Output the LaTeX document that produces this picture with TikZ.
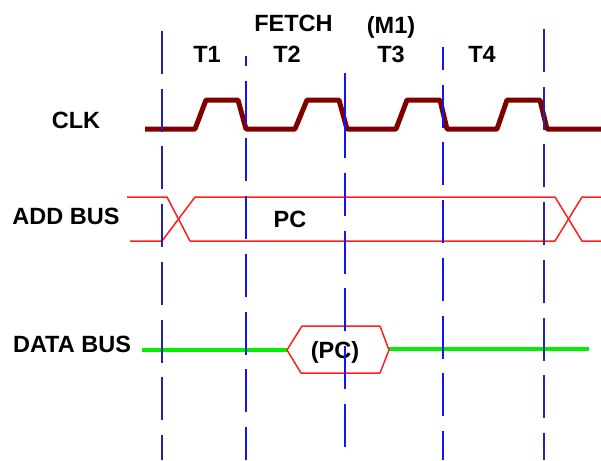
\documentclass[tikz,border=0pt]{standalone}
\usepackage{fontspec}
\setmainfont{Liberation Sans}
\definecolor{clkc}{RGB}{128,0,0}
\definecolor{busc}{RGB}{255,30,30}
\definecolor{dbusc}{RGB}{0,240,0}
\definecolor{gridc}{RGB}{20,20,250}
\definecolor{griddk}{RGB}{35,35,165}
\begin{document}
\begin{tikzpicture}[x=1pt,y=-1pt,
  lbl/.style={font=\fontsize{23.5}{27}\selectfont\bfseries, inner sep=0pt, anchor=base},
  clkline/.style={draw=clkc, line width=5pt, line join=round},
  busline/.style={draw=busc, line width=1.5pt},
  dline/.style={draw=dbusc, line width=4.5pt},
  gridline/.style={draw=gridc, line width=1.8pt, dash pattern=on 43pt off 14.7pt},
  gridsolid/.style={draw=gridc, line width=1.8pt}]
\useasboundingbox (0,0) rectangle (601,460);
% labels
\node[lbl] (fetch) at (293.5,32) {FETCH};
\node[lbl] (m1) at (391,34) {(M1)};
\node[lbl] (t1) at (207,63) {T1};
\node[lbl] (t2) at (287,63) {T2};
\node[lbl] (t3) at (391,63) {T3};
\node[lbl] (t4) at (482,63) {T4};
\node[lbl] (clk) at (76,128) {CLK};
\node[lbl] (addbus) at (66,224) {ADD BUS};
\node[lbl] (databus) at (72,352) {DATA BUS};
\node[lbl] (pc) at (290,227) {PC};
% CLK
\draw[clkline] (145,129) -- (195,129) -- (206,100) -- (238,100) -- (246,129)
  -- (295,129) -- (307,100) -- (339,100) -- (347,129)
  -- (396,129) -- (407,100) -- (440,100) -- (447,129)
  -- (497,129) -- (507,100) -- (540,100) -- (547,129) -- (601,129);
% ADD BUS
\draw[busline] (127,197) -- (167,197) -- (190,241);
\draw[busline] (130,241) -- (162,241) -- (195,197) -- (555,197) -- (582,241) -- (601,241);
\draw[busline] (190,241) -- (555,241) -- (582,197) -- (601,197);
% DATA BUS
\draw[dline] (142,350) -- (287,350);
\draw[dline] (389,349) -- (589,349);
\draw[busline, line join=round] (287,350) -- (302,326) -- (380,326) -- (389,350) -- (380,373) -- (301,373) -- cycle;
\node[lbl] (pcc) at (335,358) {(PC)};
% grid lines
\draw[gridline, draw=griddk, dash phase=0pt] (162,31) -- (162,460);
\draw[gridline, dash phase=33pt] (246,56) -- (246,460);
\draw[gridsolid] (345,73) -- (345,158);
\draw[gridline, dash phase=0pt] (345,173) -- (345,460);
\draw[gridline, dash phase=20pt] (443,47) -- (443,460);
\draw[gridline, draw=griddk, dash phase=0pt] (544,29) -- (544,460);
\end{tikzpicture}
\end{document}
